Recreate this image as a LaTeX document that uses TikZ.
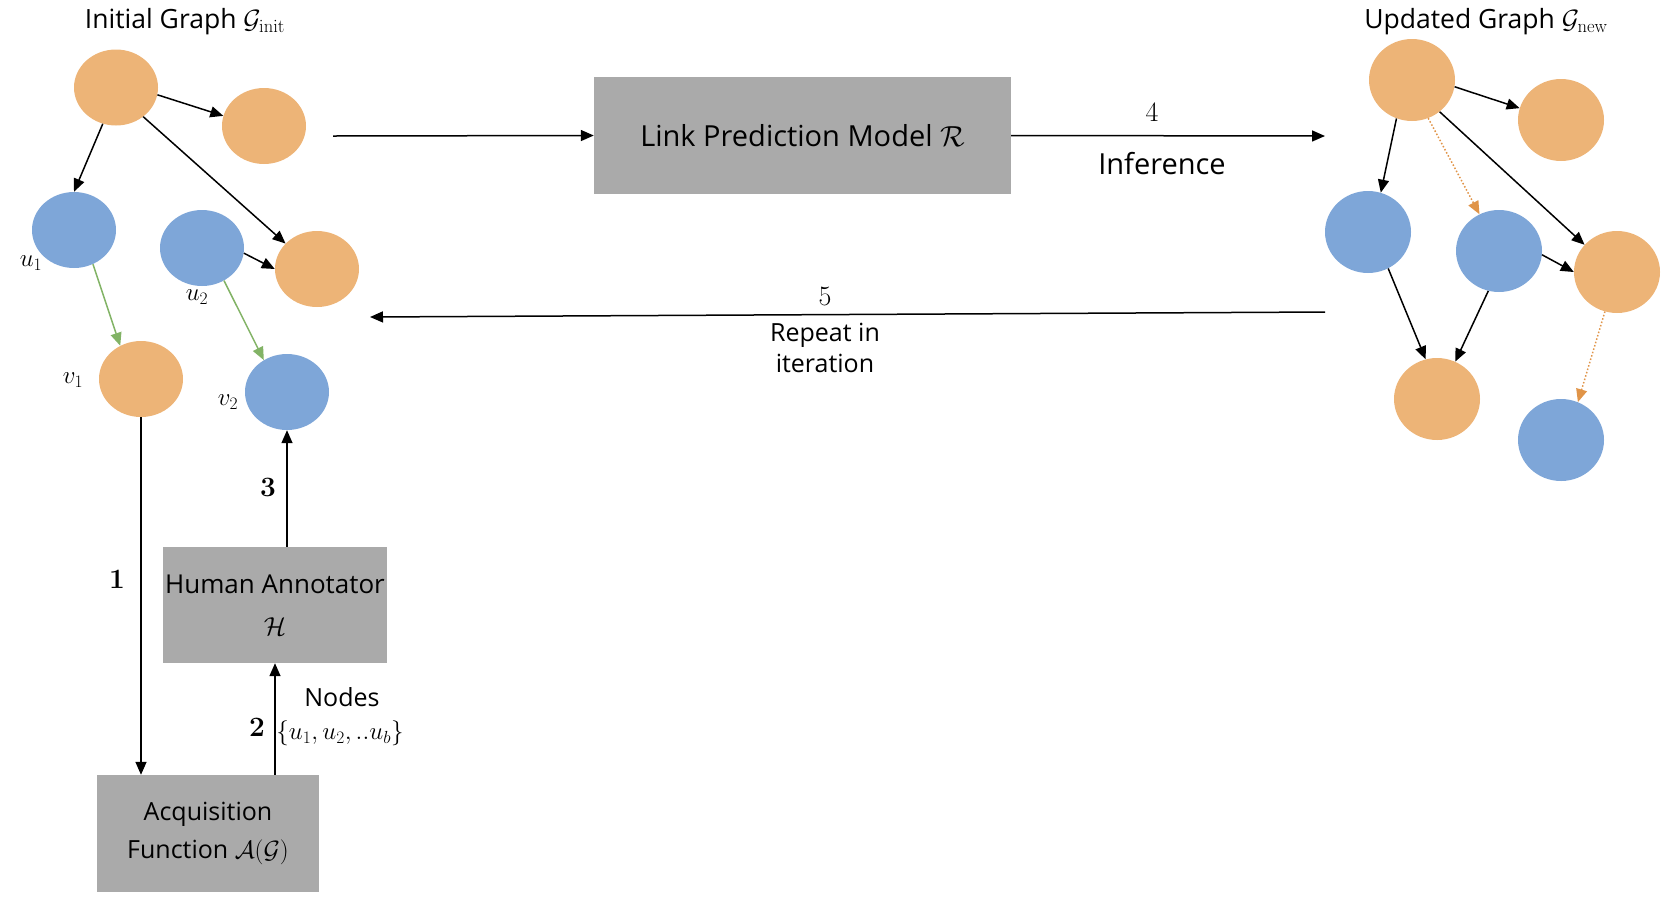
\RequirePackage{fix-cm}
\documentclass[tikz,border=0pt]{standalone}
\usepackage[no-math]{fontspec}
\setmainfont{Open Sans}
\usetikzlibrary{arrows.meta,shapes.geometric,calc}
\definecolor{orn}{HTML}{EDB477}
\definecolor{blu}{HTML}{7EA6D8}
\definecolor{boxgray}{HTML}{AAAAAA}
\definecolor{grn}{HTML}{82B366}
\definecolor{dorn}{HTML}{E09448}
\tikzset{
  onode/.style={ellipse, fill=orn, draw=none, inner sep=0pt, minimum width=84pt, minimum height=76pt},
  bnode/.style={ellipse, fill=blu, draw=none, inner sep=0pt, minimum width=84pt, minimum height=76pt},
  ronode/.style={onode, minimum width=86pt, minimum height=82pt},
  rbnode/.style={bnode, minimum width=86pt, minimum height=82pt},
  graybox/.style={rectangle, fill=boxgray, draw=none, align=center, inner sep=0pt},
  txt/.style={font=\fontsize{25}{30}\selectfont, inner sep=0pt},
  bigtxt/.style={font=\fontsize{29}{34}\selectfont, inner sep=0pt},
  numtxt/.style={font=\fontsize{28}{32}\selectfont, inner sep=0pt},
  arr/.style={-{Triangle[length=13pt,width=11pt]}, line width=1.5pt, black},
  garr/.style={-{Triangle[length=13pt,width=11pt]}, line width=1.5pt, grn},
  darr/.style={-{Triangle[length=13pt,width=11pt]}, line width=1.5pt, dorn, dotted},
}
\begin{document}
\begin{tikzpicture}[x=1pt,y=-1pt]
\useasboundingbox (0,0) rectangle (1664,906);

% titles
\node[txt, font=\fontsize{26.5}{30}\selectfont] (tinit) at (185,22) {Initial Graph $\mathcal{G}_{\mathrm{init}}$};
\node[txt, font=\fontsize{26.5}{30}\selectfont] (tnew) at (1486,22) {Updated Graph $\mathcal{G}_{\mathrm{new}}$};

% left graph
\node[onode] (A) at (116,87.5) {};
\node[onode] (B) at (264,126) {};
\node[bnode] (u1) at (74,230) {};
\node[bnode] (u2) at (202,248) {};
\node[onode] (C) at (317,269) {};
\node[onode] (v1) at (141,379) {};
\node[bnode] (v2) at (287,392) {};

\node[txt] (lu1) at (31,263) {$u_1$};
\node[txt] (lu2) at (197,297) {$u_2$};
\node[txt] (lv1) at (73,380) {$v_1$};
\node[txt] (lv2) at (228,402) {$v_2$};

\draw[arr] (A.-10) -- (B.166);
\draw[arr] (A.250) -- (u1.north);
\draw[arr] (A.-47.5) -- (C.141);
\draw[arr] (u2.-7) -- (C.180);
\draw[garr] (u1.-61) -- (v1.122);
\draw[garr] (u2.-56) -- (v2.126);

% right graph
\node[ronode] (N1) at (1412,80) {};
\node[ronode] (N2) at (1561,120) {};
\node[rbnode] (N3) at (1368,232) {};
\node[rbnode] (N4) at (1499,251) {};
\node[ronode] (N5) at (1617,272) {};
\node[ronode] (N6) at (1437,399) {};
\node[rbnode] (N7) at (1561,440) {};

\draw[arr] (N1.-9) -- (N2.164);
\draw[arr] (N1.248) -- (N3.72);
\draw[darr] (N1.-67) -- (N4.118);
\draw[arr] (N1.-49) -- (N5.140);
\draw[arr] (N4.-5) -- (N5.180);
\draw[arr] (N3.-61) -- (N6.106);
\draw[arr] (N4.255) -- (N6.64);
\draw[darr] (N5.253) -- (N7.66);

% boxes
\node[graybox, minimum width=417pt, minimum height=117pt, bigtxt] (LP) at (802.5,135.5) {Link Prediction Model $\mathcal{R}$};
\node[graybox, minimum width=224pt, minimum height=116pt, txt, font=\fontsize{26}{42}\selectfont] (H) at (275,605) {Human Annotator\\$\mathcal{H}$};
\node[graybox, minimum width=222pt, minimum height=117pt, txt, font=\fontsize{25}{38}\selectfont] (Acq) at (208,833.5) {Acquisition\\Function $\mathcal{A}(\mathcal{G})$};

% connectors
\coordinate (inL) at (333,136);
\coordinate (out4) at (1325,136);
\coordinate (rep5s) at (1325,312);
\coordinate (rep5e) at (370,317);

\draw[arr] (inL) -- (LP.west);
\draw[arr] (LP.east) -- (out4);
\draw[arr] (rep5s) -- (rep5e);
\draw[arr] (v1.south) -- (v1.south |- Acq.north);
\draw[arr] (H.south |- Acq.north) -- (H.south);
\draw[arr] (v2.south |- H.north) -- (v2.south);

% labels
\node[numtxt] (l4) at (1152,112) {$4$};
\node[bigtxt] (linf) at (1162,164) {Inference};
\node[numtxt] (l5) at (825,296) {$5$};
\node[txt, align=center, font=\fontsize{25}{31}\selectfont] (lrep) at (825,348) {Repeat in\\iteration};
\node[numtxt] (l1) at (117,579) {$\mathbf{1}$};
\node[numtxt] (l2) at (257,727) {$\mathbf{2}$};
\node[numtxt] (l3) at (268,487) {$\mathbf{3}$};
\node[txt] (lnodes) at (342,697) {Nodes};
\node[txt] (lset) at (340,733) {$\{u_1,u_2,..u_b\}$};
\end{tikzpicture}
\end{document}
